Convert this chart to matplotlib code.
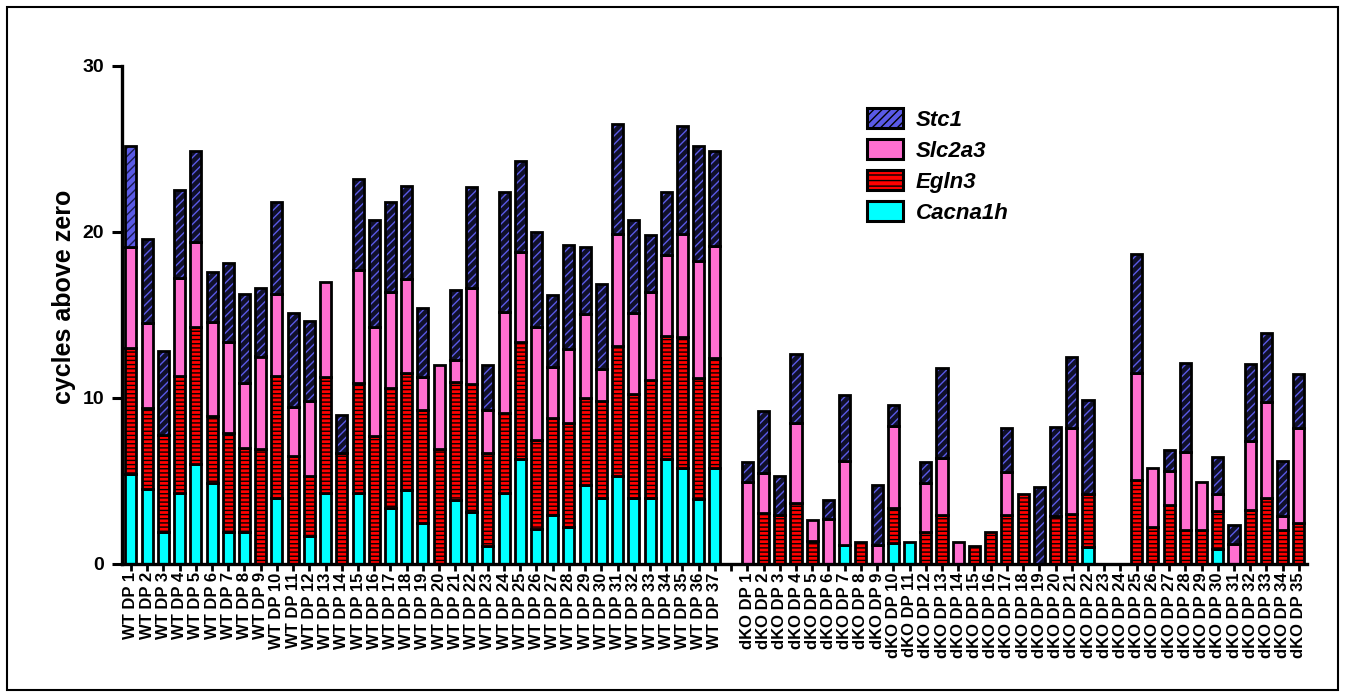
import numpy as np
import matplotlib
matplotlib.use("Agg")
import matplotlib.pyplot as plt
from matplotlib.patches import Patch, Rectangle

plt.rcParams['font.family'] = ['Liberation Sans', 'DejaVu Sans']
plt.rcParams['font.weight'] = 'bold'
plt.rcParams['hatch.linewidth'] = 1.0

# segment heights (cycles above zero), bottom to top: Cacna1h, Egln3, Slc2a3, Stc1
cac_wt = [5.4, 4.5, 1.9, 4.3, 6.0, 4.9, 1.9, 1.95, 0, 4.0, 0, 1.7, 4.3, 0, 4.26, 0, 3.36, 4.46, 2.5, 0,
          3.86, 3.15, 1.1, 4.3, 6.3, 2.09, 2.95, 2.2, 4.74, 4.0, 5.3, 3.96, 3.98, 6.33, 5.8, 3.9, 5.76]
egl_wt = [7.6, 4.9, 5.9, 7.0, 8.3, 4.0, 6.0, 5.05, 6.9, 7.3, 6.5, 3.6, 6.95, 6.7, 6.64, 7.7, 7.24, 7.04, 6.8, 6.93,
          7.09, 7.69, 5.57, 4.8, 7.05, 5.41, 5.83, 6.3, 5.26, 5.84, 7.85, 6.28, 7.1, 7.42, 7.9, 7.3, 6.64]
slc_wt = [6.1, 5.1, 0, 5.9, 5.1, 5.7, 5.5, 3.9, 5.6, 4.95, 2.95, 4.5, 5.75, 0, 6.8, 6.56, 5.8, 5.67, 1.95, 5.07,
          1.35, 5.76, 2.61, 6.1, 5.45, 6.8, 3.07, 4.45, 5.06, 1.91, 6.75, 4.86, 5.32, 4.85, 6.2, 7.05, 6.76]
stc_wt = [6.1, 5.1, 5.05, 5.3, 5.5, 3.0, 4.75, 5.35, 4.1, 5.55, 5.65, 4.85, 0, 2.3, 5.5, 6.44, 5.4, 5.63, 4.15, 0,
          4.2, 6.1, 2.69, 7.2, 5.5, 5.7, 4.35, 6.25, 4.04, 5.1, 6.6, 5.6, 3.4, 3.8, 6.5, 6.95, 5.7]

cac_ko = [0, 0, 0, 0, 0, 0, 1.14, 0, 0, 1.28, 1.33, 0, 0, 0, 0, 0, 0, 0, 0, 0,
          0, 1.05, 0, 0, 0, 0, 0, 0, 0, 0.88, 0, 0, 0, 0, 0]
egl_ko = [0, 3.05, 2.95, 3.65, 1.39, 0, 0, 1.33, 0, 2.07, 0, 1.9, 2.95, 0, 1.08, 1.9, 2.95, 4.2, 0, 2.9,
          3.0, 3.15, 0, 0, 5.06, 2.25, 3.55, 2.05, 2.05, 2.32, 0, 3.25, 3.96, 2.05, 2.45]
slc_ko = [4.92, 2.41, 0, 4.82, 1.26, 2.69, 5.06, 0, 1.14, 4.95, 0, 2.98, 3.45, 1.33, 0, 0, 2.57, 0, 0, 0,
          5.17, 0, 0, 0, 6.44, 3.51, 2.07, 4.72, 2.91, 1.0, 1.18, 4.15, 5.82, 0.86, 5.75]
stc_ko = [1.24, 3.78, 2.35, 4.18, 0, 1.17, 3.96, 0, 3.62, 1.28, 0, 1.24, 5.4, 0, 0, 0, 2.68, 0, 4.66, 5.33,
          4.33, 5.7, 0, 0, 7.2, 0, 1.25, 5.36, 0, 2.27, 1.17, 4.63, 4.12, 3.32, 3.23]

labels_wt = ["WT DP %d" % i for i in range(1, 38)]
labels_ko = ["dKO DP %d" % i for i in range(1, 36)]

# one empty slot between the two groups
labels = labels_wt + [""] + labels_ko
x = np.concatenate([np.arange(37), np.arange(38, 73)])
cac = np.array(cac_wt + cac_ko)
egl = np.array(egl_wt + egl_ko)
slc = np.array(slc_wt + slc_ko)
stc = np.array(stc_wt + stc_ko)

fig = plt.figure(figsize=(13.47, 6.97), dpi=100)
ax = fig.add_axes([122 / 1347, 1 - 564 / 697, (1307 - 122) / 1347, (564 - 66) / 697])

W = 0.68
LW = 2.0
c_cyan = '#00ffff'
c_red = '#ff0000'
c_pink = '#ff6fd0'
c_blue = '#5a5ae6'


def seg(h, b, **kw):
    m = h > 0
    return ax.bar(x[m], h[m], bottom=b[m], width=W, linewidth=LW, edgecolor='black', **kw)


b0 = np.zeros(len(x))
seg(cac, b0, color=c_cyan)
seg(egl, b0 + cac, color=c_red, hatch='----')
seg(slc, b0 + cac + egl, color=c_pink)
# Stc1: blue diagonal hatch on dark fill, then outline on top
bs = cac + egl + slc
m = stc > 0
ax.bar(x[m], stc[m], bottom=bs[m], width=W, color='#10102a', edgecolor=c_blue, hatch='////', linewidth=0)
# first sample drawn lighter as in the source
ax.bar(x[0], stc[0], bottom=bs[0], width=W, color=c_blue, edgecolor='#1a1a50', hatch='////', linewidth=0)
ax.bar(x[m], stc[m], bottom=bs[m], width=W, facecolor='none', edgecolor='black', linewidth=LW)

ax.set_xlim(-0.55, 72.5)
ax.set_ylim(0, 30)
ax.set_yticks([0, 10, 20, 30])
ax.set_xticks(np.arange(73))
ax.set_xticklabels(labels, rotation=90, fontsize=12, fontweight='bold')
ax.tick_params(axis='y', length=7, width=2.2, pad=6, labelsize=14)
ax.tick_params(axis='x', length=5, width=2, pad=1)
for s in ['top', 'right']:
    ax.spines[s].set_visible(False)
for s in ['left', 'bottom']:
    ax.spines[s].set_linewidth(2.4)

fig.text(64 / 1347, 1 - 297 / 697, "cycles above zero", rotation=90, ha='center', va='center',
         fontsize=18, fontweight='bold')

handles = [
    Patch(facecolor=c_blue, edgecolor='black', hatch='////', linewidth=2.2),
    Patch(facecolor=c_pink, edgecolor='black', linewidth=2.2),
    Patch(facecolor=c_red, edgecolor='black', hatch='---', linewidth=2.2),
    Patch(facecolor=c_cyan, edgecolor='black', linewidth=2.2),
]
fig.legend(handles, ['Stc1', 'Slc2a3', 'Egln3', 'Cacna1h'], loc='upper left',
           bbox_to_anchor=(867 / 1347, 1 - 108 / 697), frameon=False,
           prop={'size': 16, 'weight': 'bold', 'style': 'italic'},
           handlelength=1.6, handleheight=1.0, handletextpad=0.6, labelspacing=0.38,
           borderpad=0, borderaxespad=0)

fig.add_artist(Rectangle((7 / 1347, 7 / 697), (1338 - 7) / 1347, (690 - 7) / 697,
                         transform=fig.transFigure, fill=False, edgecolor='black', linewidth=1.5))

fig.savefig('out.png', dpi=100)
